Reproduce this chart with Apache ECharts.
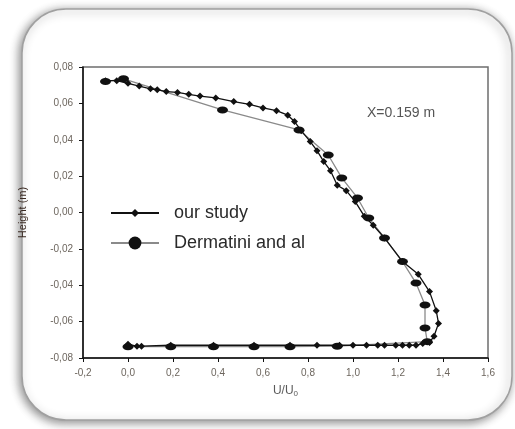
<!DOCTYPE html>
<html>

<head>
    <meta charset="utf-8">
    <title>Velocity profile X=0.159 m</title>
    <script src="https://cdn.jsdelivr.net/npm/echarts/dist/echarts.min.js"></script>
    <style>
        html, body {
            margin: 0;
            padding: 0;
            background: #ffffff;
        }
    </style>
</head>

<body>
    <div id="main" style="width: 515px;height:429px;"></div>
    <script>
        // axis ticks
        var xTicks = [-0.2, 0.0, 0.2, 0.4, 0.6, 0.8, 1.0, 1.2, 1.4, 1.6];
        var yTicks = [-0.08, -0.06, -0.04, -0.02, 0.00, 0.02, 0.04, 0.06, 0.08];

        // our study (U/U0, height in m), from the wall upward
        var oursU = [0.00, 0.04, 0.06, 0.19, 0.38, 0.56, 0.72, 0.84, 0.94, 1.00, 1.06, 1.11, 1.14, 1.19, 1.22,
            1.25, 1.28, 1.31, 1.34, 1.36, 1.38, 1.37, 1.34, 1.29, 1.22, 1.14, 1.09, 1.05, 1.01, 0.97, 0.93,
            0.90, 0.87, 0.84, 0.81, 0.77, 0.74, 0.71, 0.66, 0.60, 0.54, 0.47, 0.39, 0.32, 0.27, 0.22, 0.17,
            0.13, 0.10, 0.05, 0.00, -0.05, -0.10];
        var oursH = [-0.0725, -0.0735, -0.0735, -0.073, -0.073, -0.073, -0.073, -0.073, -0.073, -0.073, -0.073,
            -0.073, -0.073, -0.073, -0.073, -0.073, -0.073, -0.072, -0.0715, -0.068, -0.061, -0.054, -0.0435,
            -0.034, -0.027, -0.014, -0.007, -0.002, 0.006, 0.012, 0.015, 0.023, 0.028, 0.034, 0.039, 0.045,
            0.050, 0.0535, 0.056, 0.0575, 0.0595, 0.061, 0.063, 0.064, 0.065, 0.066, 0.0665, 0.0675, 0.068,
            0.0695, 0.071, 0.0725, 0.0725];

        // Dermatini and al
        var dermU = [0.00, 0.19, 0.38, 0.56, 0.72, 0.93, 1.33, 1.32, 1.32, 1.28, 1.22, 1.14, 1.07, 1.02, 0.95,
            0.89, 0.76, 0.42, -0.02, -0.10];
        var dermH = [-0.0738, -0.0738, -0.0738, -0.0738, -0.0738, -0.0735, -0.071, -0.0635, -0.0509, -0.0388,
            -0.027, -0.014, -0.003, 0.008, 0.019, 0.0316, 0.0454, 0.0564, 0.0735, 0.072];

        function pairs(xs, ys) {
            return xs.map(function (v, i) { return [v, ys[i]]; });
        }
        function comma(v, d) {
            return v.toFixed(d).replace('.', ',');
        }

        var myChart = echarts.init(document.getElementById('main'));

        option = {
            backgroundColor: '#ffffff',
            animation: false,
            textStyle: { fontFamily: 'Liberation Sans, Arial, sans-serif' },
            graphic: [{
                type: 'rect',
                z: -10,
                shape: { x: 22, y: 9, width: 490, height: 411, r: 44 },
                style: {
                    fill: '#ffffff',
                    stroke: '#a0a0a0',
                    lineWidth: 1.5,
                    shadowColor: 'rgba(0,0,0,0.45)',
                    shadowBlur: 10,
                    shadowOffsetX: -2,
                    shadowOffsetY: 2
                }
            }, {
                type: 'text',
                left: 367,
                top: 106,
                style: {
                    text: 'X=0.159 m',
                    fill: '#555555',
                    font: '14px "Liberation Sans", Arial, sans-serif'
                }
            }],
            grid: { left: 83, top: 67, right: 27, bottom: 71, show: true, borderColor: '#6e6e6e', borderWidth: 1.5 },
            legend: [{
                data: ['our study'],
                left: 110,
                top: 203,
                padding: 0,
                itemWidth: 48,
                itemHeight: 10,
                textStyle: { fontSize: 18, color: '#2a2a2a', padding: [0, 0, 0, 10], lineHeight: 20 }
            }, {
                data: ['Dermatini and al'],
                left: 110,
                top: 233,
                padding: 0,
                itemWidth: 48,
                itemHeight: 16,
                textStyle: { fontSize: 18, color: '#2a2a2a', padding: [0, 0, 0, 10], lineHeight: 20 }
            }],
            xAxis: {
                type: 'value',
                min: xTicks[0],
                max: xTicks[xTicks.length - 1],
                interval: 0.2,
                name: 'U/U{s|0}',
                nameLocation: 'middle',
                nameGap: 26,
                nameTextStyle: {
                    fontSize: 12, color: '#5a5a5a',
                    rich: { s: { fontSize: 8, color: '#5a5a5a', verticalAlign: 'bottom', padding: [6, 0, 0, 0] } }
                },
                axisLine: { onZero: false, lineStyle: { color: '#111', width: 1.5 } },
                axisTick: { inside: false, length: 4, lineStyle: { color: '#111' } },
                axisLabel: {
                    fontSize: 10, color: '#6d665e', margin: 10,
                    formatter: function (v) { return comma(v, 1); }
                },
                splitLine: { show: false }
            },
            yAxis: {
                type: 'value',
                min: yTicks[0],
                max: yTicks[yTicks.length - 1],
                interval: 0.02,
                name: 'Height (m)',
                nameLocation: 'middle',
                nameGap: 55,
                nameTextStyle: { fontSize: 11, color: '#3a2a22' },
                axisLine: { onZero: false, lineStyle: { color: '#111', width: 1.5 } },
                axisTick: { inside: false, length: 4, lineStyle: { color: '#111' } },
                axisLabel: {
                    fontSize: 10, color: '#6d665e', margin: 10,
                    formatter: function (v) { return comma(v, 2); }
                },
                splitLine: { show: false }
            },
            series: [{
                name: 'Dermatini and al',
                type: 'line',
                data: pairs(dermU, dermH),
                symbol: 'circle',
                symbolSize: [11, 7],
                itemStyle: { color: '#111111' },
                lineStyle: { color: '#8a8a8a', width: 1.3 },
                z: 2
            }, {
                name: 'our study',
                type: 'line',
                data: pairs(oursU, oursH),
                symbol: 'diamond',
                symbolSize: 7,
                itemStyle: { color: '#111111' },
                lineStyle: { color: '#111111', width: 1.3 },
                z: 3
            }]
        };
        myChart.setOption(option);
    </script>

</body>

</html>
